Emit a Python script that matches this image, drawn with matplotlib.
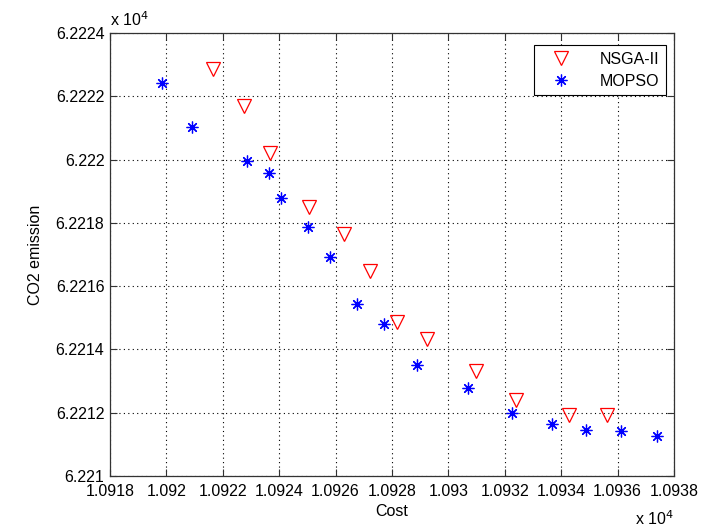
import matplotlib
matplotlib.use("Agg")
import matplotlib.pyplot as plt
import numpy as np

nsga_cost = [10921.66, 10922.76, 10923.67, 10925.06, 10926.30, 10927.22,
             10928.17, 10929.23, 10930.97, 10932.40, 10934.27, 10935.61]
nsga_co2 = [62222.87, 62221.69, 62220.21, 62218.51, 62217.65, 62216.47,
            62214.87, 62214.34, 62213.32, 62212.39, 62211.92, 62211.92]

mopso_cost = [10919.83, 10920.92, 10922.85, 10923.63, 10924.06, 10925.01,
              10925.80, 10926.75, 10927.72, 10928.88, 10930.68, 10932.27,
              10933.67, 10934.88, 10936.12, 10937.39]
mopso_co2 = [62222.41, 62221.03, 62219.96, 62219.56, 62218.77, 62217.88,
             62216.91, 62215.44, 62214.79, 62213.50, 62212.79, 62211.99,
             62211.65, 62211.44, 62211.41, 62211.25]

x_ticks = [10918, 10920, 10922, 10924, 10926, 10928, 10930, 10932, 10934, 10936, 10938]
y_ticks = [62210, 62212, 62214, 62216, 62218, 62220, 62222, 62224]

plt.rcParams['font.family'] = ['Liberation Sans', 'DejaVu Sans']
FS = 11.5
plt.rcParams['font.size'] = FS

fig = plt.figure(figsize=(7.2, 5.32), dpi=100)
ax = fig.add_axes([110/720, 1-476/532, (674-110)/720, (476-33)/532])

ax.plot(nsga_cost, nsga_co2, linestyle='none', marker='v', markersize=9.5,
        markerfacecolor='none', markeredgecolor='red', markeredgewidth=0.9,
        label='NSGA-II')
ax.plot(mopso_cost, mopso_co2, linestyle='none', marker=(8, 2, 0), markersize=8.5,
        markeredgecolor='blue', markerfacecolor='blue', markeredgewidth=0.9,
        label='MOPSO')

ax.set_xlim(10918, 10938)
ax.set_ylim(62210, 62224)
ax.set_xticks(x_ticks)
ax.set_yticks(y_ticks)
ax.set_xticklabels(['%g' % (v / 1e4) for v in x_ticks])
ax.set_yticklabels(['%g' % (v / 1e4) for v in y_ticks])

ax.grid(True, linestyle=(0, (1, 3)), color='black', linewidth=0.8)
ax.tick_params(direction='in', top=True, right=True, length=5, width=0.8,
               colors='#333333', labelcolor='black', labelsize=FS)
ax.tick_params(axis='x', pad=6)
ax.tick_params(axis='y', pad=4)
for s in ax.spines.values():
    s.set_color('#333333')
    s.set_linewidth(0.9)

ax.set_xlabel('Cost', fontsize=FS, labelpad=3)
ax.set_ylabel('CO2 emission', fontsize=FS, labelpad=9)

ax.text(0.0, 1.01, r'x 10$^4$', transform=ax.transAxes, ha='left', va='bottom', fontsize=FS)
ax.text(1.0, -0.075, r'x 10$^4$', transform=ax.transAxes, ha='right', va='top', fontsize=FS)

leg = ax.legend(loc='upper right', bbox_to_anchor=(0.9858, 0.972), fancybox=False,
                framealpha=1, edgecolor='black', borderpad=0.4, labelspacing=0.45,
                handletextpad=1.2, handlelength=2.5, borderaxespad=0, fontsize=FS)
leg.get_frame().set_linewidth(0.8)

fig.savefig('out.png', dpi=100)
